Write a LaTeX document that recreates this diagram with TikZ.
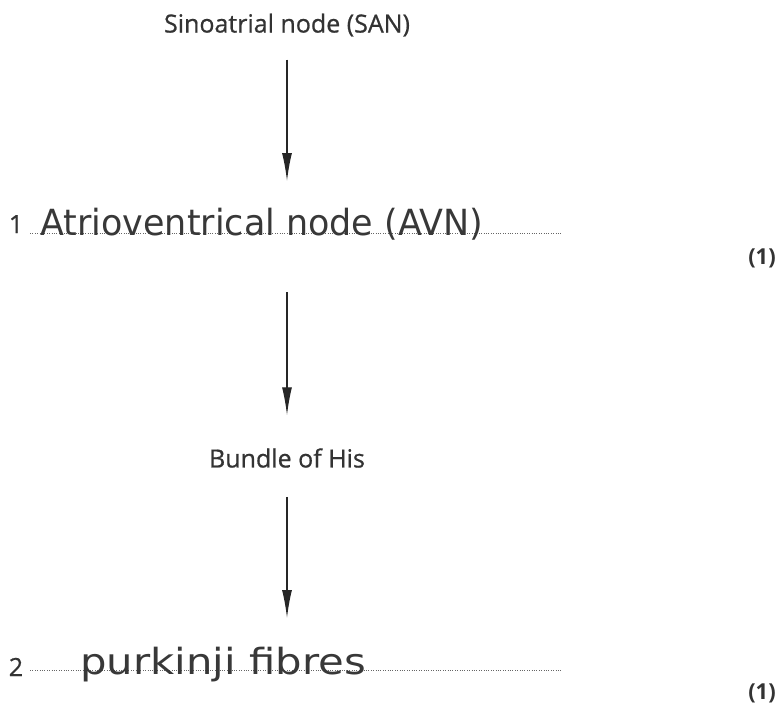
\documentclass[tikz,border=0pt]{standalone}
\usepackage{fontspec}
\usepackage{graphicx}
\setmainfont{Open Sans}
\newfontfamily\labelfont{Open Sans}[FakeBold=0.7]
\newfontfamily\handfont{DejaVu Sans}
\usetikzlibrary{arrows.meta}
\begin{document}
\begin{tikzpicture}[x=0.5pt,y=-0.5pt,
    step label/.style={font=\labelfont\fontsize{12.5}{14}\selectfont, text=black!80},
    answer/.style={font=\handfont\fontsize{18}{20}\selectfont, text=black!78, anchor=base west, inner sep=0pt},
    flow/.style={-{Latex[length=14pt,width=5pt]}, line width=0.7pt, black!85},
    writeline/.style={black!60, line width=0.4pt, dash pattern=on 0.4pt off 0.8pt},
    marks/.style={font=\bfseries\fontsize{11}{13}\selectfont, text=black!80}]
    \useasboundingbox (0,0) rectangle (783,709);
    % Conduction pathway
    \node[step label] (san) at (287,25) {Sinoatrial node (SAN)};
    \coordinate (ans1) at (287,233);
    \node[step label] (his) at (287,458) {Bundle of His};
    \coordinate (ans2) at (287,670);
    % Answer lines
    \node[step label, anchor=base] (num1) at (16,233) {1};
    \draw[writeline] (30,233) -- (562,233);
    \node[answer] (avn) at (40,235) {\scalebox{0.97}[1]{Atrioventrical node (AVN)}};
    \node[marks] (mark1) at (762,258) {(1)};
    \node[step label, anchor=base] (num2) at (16,676) {2};
    \draw[writeline] (30,670) -- (562,670);
    \node[answer] (fibres) at (80,674) {\scalebox{1.16}[1]{purkinji fibres}};
    \node[marks] (mark2) at (762,693) {(1)};
    % Arrows
    \draw[flow, shorten <=8pt, shorten >=26pt] (san) -- (ans1);
    \draw[flow, shorten <=29.5pt, shorten >=13pt] (ans1) -- (his);
    \draw[flow, shorten <=11pt, shorten >=26pt] (his) -- (ans2);
\end{tikzpicture}
\end{document}
